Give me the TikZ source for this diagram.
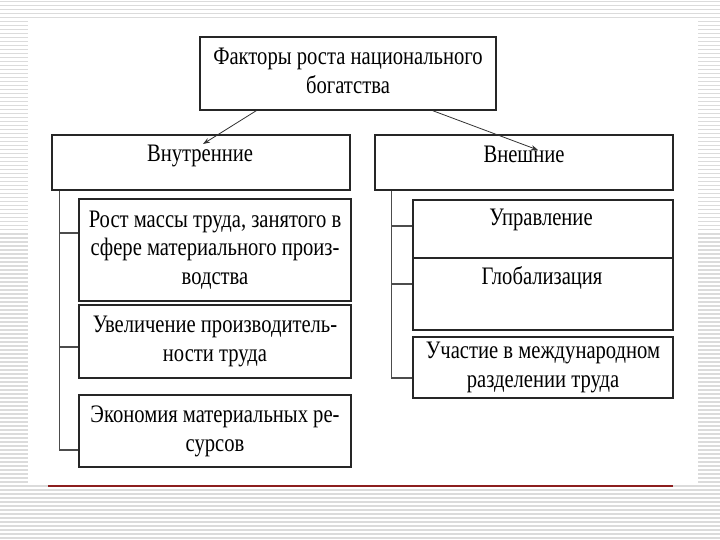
\documentclass[tikz,border=0pt]{standalone}
\usepackage{fontspec}
\setmainfont{Liberation Serif}
\usepackage{graphicx}
\usetikzlibrary{calc,arrows.meta}
\newcommand\tx[1]{\scalebox{1}[1.22]{\begin{tabular}{@{}c@{}}#1\end{tabular}}}
\definecolor{stripe}{gray}{0.86}
\definecolor{redline}{RGB}{140,30,30}
\begin{document}
\begin{tikzpicture}[x=1pt,y=-1pt,
  box/.style={draw=black!85,line width=1.3pt,fill=white,inner sep=0pt,font=\fontsize{20.6}{23.5}\selectfont},
  txt/.style={inner sep=0pt,font=\fontsize{20.6}{23.5}\selectfont},
  conn/.style={draw=black!70,line width=1.1pt},
  arr/.style={draw=black!80,line width=0.8pt,-{Stealth[length=7pt,width=5pt]}}]
\useasboundingbox (0,0) rectangle (720,540);
% background
\fill[white] (0,0) rectangle (720,540);
\foreach \yy in {1,5,...,540} \fill[stripe] (0,\yy) rectangle (720,\yy+1.5);
\fill[white] (28,18) rectangle (698,485);
\draw[redline,line width=1.3pt] (48,486) -- (673,486);
% boxes
\node[box,minimum width=296pt,minimum height=73pt] (top) at (348,73.5) {\tx{Факторы роста национального\\богатства}};
\node[box,minimum width=298pt,minimum height=55pt] (inner) at (201,162.5) {};
\node[txt] (innert) at (200,156) {\tx{Внутренние}};
\node[box,minimum width=298pt,minimum height=55pt] (outer) at (524,162.5) {};
\node[txt] (outert) at (524,157) {\tx{Внешние}};
\node[box,minimum width=272pt,minimum height=102pt] (b1) at (215,250) {\tx{Рост массы труда, занятого в\\сфере материального произ-\\водства}};
\node[box,minimum width=272pt,minimum height=73pt] (b2) at (215,341.5) {\tx{Увеличение производитель-\\ности труда}};
\node[box,minimum width=272pt,minimum height=72pt] (b3) at (215,431) {\tx{Экономия материальных ре-\\сурсов}};
\node[box,minimum width=260pt,minimum height=58pt] (r1) at (543,229) {};
\node[txt] (r1t) at (541,220) {\tx{Управление}};
\node[box,minimum width=260pt,minimum height=72pt] (r2) at (543,294) {};
\node[txt] (r2t) at (542,279) {\tx{Глобализация}};
\node[box,minimum width=260pt,minimum height=61pt] (r3) at (543,367.5) {\tx{Участие в международном\\разделении труда}};
% left connectors
\coordinate (vl) at ($(inner.south west)+(8,0)$);
\coordinate (lt1) at ($(b1.west)+(0,-17)$);
\coordinate (lt2) at ($(b2.west)+(0,5.5)$);
\coordinate (lt3) at ($(b3.west)+(0,19)$);
\draw[conn] (vl) |- (lt3);
\draw[conn] (lt1 -| vl) -- (lt1);
\draw[conn] (lt2 -| vl) -- (lt2);
% right connectors
\coordinate (vr) at ($(outer.south west)+(17,0)$);
\coordinate (rt1) at ($(r1.west)+(0,-3)$);
\coordinate (rt2) at ($(r2.west)+(0,-10)$);
\coordinate (rt3) at ($(r3.west)+(0,10.5)$);
\draw[conn] (vr) |- (rt3);
\draw[conn] (rt1 -| vr) -- (rt1);
\draw[conn] (rt2 -| vr) -- (rt2);
% arrows
\coordinate (a1s) at ($(top.south west)+(57,0)$);
\coordinate (a1e) at (203,144);
\coordinate (a2s) at ($(top.south east)+(-64,0)$);
\coordinate (a2e) at (538,150);
\draw[arr] (a1s) -- (a1e);
\draw[arr] (a2s) -- (a2e);
\end{tikzpicture}
\end{document}
